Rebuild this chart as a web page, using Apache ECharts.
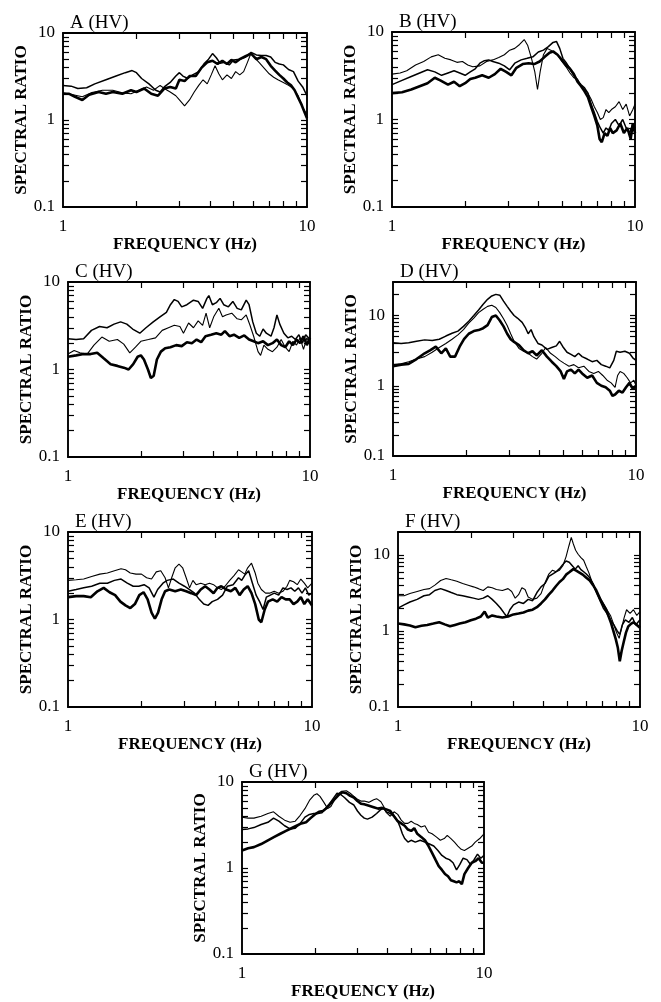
<!DOCTYPE html>
<html><head><meta charset="utf-8">
<script src="https://cdn.jsdelivr.net/npm/echarts@6/dist/echarts.min.js"></script>
<style>html,body{margin:0;padding:0;background:#fff}#c{width:661px;height:1002px}</style>
</head><body><div id="c"></div><script>
// ---- tick / label values ----
const xMinorTicks = [2,3,4,5,6,7,8,9];
const xTickLabels = [1, 10];
const yTickLabels = [0.1, 1, 10];
const yTicks10 = [0.2,0.3,0.4,0.5,0.6,0.7,0.8,0.9,1,2,3,4,5,6,7,8,9];
const yTicks30 = [0.2,0.3,0.4,0.5,0.6,0.7,0.8,0.9,1,2,3,4,5,6,7,8,9,10,20];
const yTicks20 = [0.2,0.3,0.4,0.5,0.6,0.7,0.8,0.9,1,2,3,4,5,6,7,8,9,10];
const panelTitles = ['A (HV)','B (HV)','C (HV)','D (HV)','E (HV)','F (HV)','G (HV)'];
const panelYMax = [10,10,10,30,10,20,10];

// ---- series values: [frequency Hz, spectral ratio] ----
const A_thick = [[1,2.0],[1.06,2.0],[1.12,1.85],[1.2,1.7],[1.28,1.95],[1.4,2.1],[1.5,2.0],[1.6,2.1],[1.75,2.0],[1.9,2.2],[2.0,2.1],[2.15,2.3],[2.3,2.0],[2.45,1.9],[2.6,2.3],[2.75,2.4],[2.9,2.3],[3.0,2.9],[3.15,2.8],[3.3,3.2],[3.5,3.2],[3.7,4.0],[3.9,4.6],[4.1,4.8],[4.3,4.4],[4.5,4.8],[4.7,4.4],[4.9,4.9],[5.1,4.6],[5.3,5.0],[5.6,5.4],[5.9,5.8],[6.2,5.0],[6.5,5.3],[6.8,5.0],[7.1,4.2],[7.4,3.7],[7.7,3.3],[8.0,3.0],[8.3,2.7],[8.6,2.5],[8.9,2.2],[9.2,1.8],[9.5,1.5],[9.8,1.2],[10,1.05]];
const A_med = [[1,2.5],[1.08,2.45],[1.15,2.3],[1.25,2.35],[1.35,2.6],[1.5,2.9],[1.65,3.2],[1.8,3.5],[1.92,3.7],[2.0,3.5],[2.1,3.0],[2.25,2.6],[2.4,2.2],[2.5,2.1],[2.6,2.4],[2.75,2.7],[2.9,3.2],[3.0,3.5],[3.1,3.2],[3.25,3.0],[3.4,3.3],[3.6,3.6],[3.8,4.5],[3.95,5.0],[4.1,5.8],[4.25,5.2],[4.4,4.5],[4.6,4.6],[4.8,4.3],[5.0,4.9],[5.3,5.0],[5.6,5.3],[5.9,6.0],[6.2,5.6],[6.5,5.5],[6.8,5.5],[7.1,5.3],[7.4,4.6],[7.7,4.4],[8.0,4.3],[8.4,3.8],[8.8,3.6],[9.2,2.8],[9.6,2.4],[10,1.9]];
const A_thin = [[1,2.05],[1.1,1.95],[1.2,1.85],[1.3,2.05],[1.45,2.2],[1.6,2.2],[1.75,2.05],[1.9,2.0],[2.05,2.2],[2.2,2.4],[2.35,2.2],[2.5,2.5],[2.6,2.3],[2.75,2.1],[2.9,1.9],[3.0,1.7],[3.15,1.45],[3.3,1.7],[3.45,2.1],[3.6,2.5],[3.75,2.9],[3.9,2.6],[4.05,3.3],[4.2,4.2],[4.35,3.4],[4.5,2.9],[4.7,3.3],[4.9,3.0],[5.1,3.6],[5.3,3.3],[5.5,3.6],[5.7,4.6],[5.9,5.9],[6.1,5.2],[6.4,4.5],[6.7,3.9],[7.0,3.4],[7.3,3.1],[7.6,2.9],[8.0,2.7],[8.4,2.5],[8.8,2.3],[9.2,1.9],[9.6,1.4],[10,1.15]];

const B_thick = [[1,2.0],[1.1,2.05],[1.2,2.2],[1.3,2.4],[1.4,2.6],[1.5,3.0],[1.58,2.8],[1.7,2.5],[1.8,2.7],[1.9,2.4],[2.0,2.6],[2.1,2.9],[2.2,3.0],[2.35,3.2],[2.5,3.0],[2.65,3.3],[2.8,3.8],[2.95,3.5],[3.1,3.2],[3.25,3.9],[3.45,4.3],[3.65,4.4],[3.85,4.3],[4.05,4.6],[4.25,5.2],[4.45,5.8],[4.6,6.0],[4.8,5.5],[5.0,4.8],[5.2,4.2],[5.4,3.8],[5.6,3.3],[5.8,2.7],[6.0,2.4],[6.2,2.1],[6.4,1.8],[6.6,1.4],[6.8,1.1],[7.0,0.85],[7.15,0.6],[7.3,0.55],[7.5,0.7],[7.7,0.65],[7.9,0.8],[8.1,0.7],[8.4,0.75],[8.7,0.9],[9.0,0.7],[9.3,0.8],[9.6,0.6],[9.8,0.9],[10,0.7]];
const B_med = [[1,2.5],[1.1,2.8],[1.2,3.1],[1.3,3.4],[1.4,3.7],[1.5,3.5],[1.6,3.2],[1.7,3.4],[1.8,3.6],[1.9,3.4],[2.0,3.2],[2.1,3.5],[2.2,3.8],[2.3,4.4],[2.4,4.7],[2.5,4.8],[2.6,4.6],[2.75,4.4],[2.9,4.1],[3.05,3.7],[3.2,4.4],[3.4,4.8],[3.6,5.0],[3.8,5.2],[4.0,5.9],[4.2,6.2],[4.4,6.8],[4.6,7.6],[4.75,7.8],[4.9,6.5],[5.05,5.0],[5.2,4.5],[5.4,3.8],[5.6,3.2],[5.8,2.8],[6.0,2.5],[6.2,2.3],[6.4,2.0],[6.6,1.5],[6.8,1.2],[7.0,0.95],[7.2,0.8],[7.4,0.7],[7.6,0.8],[7.8,0.75],[8.0,0.9],[8.3,1.0],[8.6,0.85],[8.9,1.0],[9.2,0.8],[9.5,0.7],[9.8,0.9],[10,0.8]];
const B_thin = [[1,3.3],[1.08,3.4],[1.15,3.6],[1.25,4.2],[1.35,4.6],[1.45,5.2],[1.55,5.5],[1.65,5.0],[1.75,4.8],[1.85,4.5],[1.95,4.6],[2.05,4.2],[2.15,4.0],[2.3,4.1],[2.45,4.6],[2.6,4.8],[2.75,5.1],[2.9,5.5],[3.05,6.2],[3.2,6.5],[3.35,7.2],[3.5,8.2],[3.62,7.0],[3.75,5.0],[3.87,3.5],[3.97,2.2],[4.07,3.5],[4.2,5.5],[4.35,6.5],[4.5,6.2],[4.65,5.8],[4.8,5.5],[5.0,4.6],[5.2,4.0],[5.4,3.4],[5.6,3.0],[5.8,2.9],[6.0,2.4],[6.2,2.2],[6.4,2.0],[6.6,1.7],[6.8,1.4],[7.0,1.2],[7.2,1.0],[7.4,1.05],[7.6,1.3],[7.8,1.2],[8.0,1.3],[8.3,1.4],[8.6,1.6],[8.9,1.3],[9.2,1.5],[9.5,1.1],[9.8,1.3],[10,1.5]];

const C_thick = [[1,1.4],[1.08,1.45],[1.16,1.5],[1.24,1.5],[1.32,1.55],[1.4,1.35],[1.5,1.15],[1.6,1.1],[1.7,1.05],[1.78,1.0],[1.86,1.15],[1.94,1.4],[2.0,1.45],[2.06,1.3],[2.14,1.0],[2.2,0.8],[2.26,0.85],[2.33,1.3],[2.42,1.6],[2.52,1.75],[2.65,1.8],[2.8,1.9],[2.95,1.85],[3.1,2.05],[3.25,2.0],[3.4,2.2],[3.55,2.05],[3.7,2.4],[3.9,2.5],[4.1,2.6],[4.3,2.5],[4.45,2.75],[4.65,2.4],[4.85,2.5],[5.1,2.3],[5.35,2.45],[5.6,2.2],[5.85,2.1],[6.1,2.0],[6.4,2.1],[6.7,1.9],[7.0,2.0],[7.3,2.2],[7.6,1.9],[7.9,1.8],[8.2,2.1],[8.5,1.9],[8.8,2.2],[9.1,2.0],[9.4,2.4],[9.7,1.9],[10,2.3]];
const C_med = [[1,2.25],[1.08,2.2],[1.16,2.25],[1.25,2.8],[1.35,3.1],[1.45,3.0],[1.55,3.3],[1.65,3.5],[1.75,3.3],[1.85,2.9],[1.98,2.6],[2.1,3.0],[2.25,3.5],[2.4,4.0],[2.55,4.5],[2.65,5.5],[2.75,6.3],[2.85,6.0],[2.95,5.2],[3.1,5.5],[3.3,6.2],[3.45,6.0],[3.6,5.0],[3.75,6.5],[3.82,7.0],[3.95,5.5],[4.1,5.8],[4.25,6.5],[4.4,5.5],[4.6,5.2],[4.8,6.0],[5.0,5.0],[5.2,4.8],[5.45,6.2],[5.6,5.5],[5.8,3.5],[6.0,2.6],[6.2,2.4],[6.4,2.9],[6.6,2.6],[6.9,2.4],[7.1,3.0],[7.3,4.2],[7.5,3.3],[7.8,2.6],[8.1,2.3],[8.4,2.4],[8.7,2.2],[9.0,2.5],[9.3,2.0],[9.6,2.5],[10,2.2]];
const C_thin = [[1,1.5],[1.06,1.65],[1.12,1.55],[1.2,1.5],[1.28,1.9],[1.38,2.35],[1.48,2.1],[1.6,2.2],[1.7,1.95],[1.8,1.55],[1.9,1.8],[2.0,2.1],[2.15,2.2],[2.3,2.3],[2.45,2.8],[2.6,3.0],[2.75,3.2],[2.9,3.1],[3.0,2.6],[3.15,3.4],[3.3,3.0],[3.45,3.6],[3.6,3.2],[3.72,4.4],[3.85,3.0],[4.0,4.0],[4.2,5.0],[4.35,4.0],[4.5,4.2],[4.75,4.4],[5.0,3.8],[5.2,3.7],[5.45,4.2],[5.65,3.2],[5.85,2.4],[6.1,1.6],[6.25,1.45],[6.45,1.9],[6.7,1.7],[7.0,1.6],[7.3,1.8],[7.6,2.2],[7.9,1.8],[8.2,1.6],[8.5,2.1],[8.8,1.9],[9.1,2.3],[9.4,1.7],[9.7,2.3],[10,2.0]];

const D_thick = [[1,1.9],[1.08,2.0],[1.16,2.05],[1.25,2.4],[1.35,2.9],[1.42,3.2],[1.5,3.6],[1.58,2.9],[1.65,3.4],[1.72,2.6],[1.8,2.6],[1.88,3.6],[1.96,4.6],[2.05,5.5],[2.15,6.0],[2.25,6.2],[2.35,6.6],[2.45,7.3],[2.55,9.5],[2.65,10],[2.75,8.5],[2.85,7.0],[2.95,5.5],[3.05,4.6],[3.15,4.2],[3.3,3.8],[3.45,3.2],[3.6,2.9],[3.75,3.1],[3.9,2.7],[4.1,3.2],[4.3,2.6],[4.5,2.2],[4.7,1.9],[4.9,1.6],[5.05,1.25],[5.2,1.6],[5.4,1.7],[5.6,1.5],[5.8,1.7],[6.0,1.5],[6.3,1.3],[6.6,1.4],[6.9,1.1],[7.2,1.0],[7.5,0.95],[7.8,0.85],[8.0,0.72],[8.2,0.75],[8.5,0.85],[8.8,0.8],[9.1,0.95],[9.4,1.1],[9.7,0.9],[10,1.0]];
const D_med = [[1,4.1],[1.08,4.0],[1.16,4.1],[1.25,4.3],[1.35,4.5],[1.45,4.4],[1.55,4.6],[1.65,5.1],[1.75,5.6],[1.85,6.0],[1.95,7.0],[2.05,8.3],[2.15,10],[2.25,12],[2.35,14.5],[2.45,17],[2.55,19],[2.65,20],[2.75,19.5],[2.85,16],[2.95,13.5],[3.05,11.5],[3.15,10],[3.25,9.2],[3.4,8.0],[3.5,6.8],[3.6,5.5],[3.7,6.3],[3.8,5.0],[3.95,4.0],[4.1,3.8],[4.3,3.3],[4.5,3.5],[4.7,3.7],[4.85,4.3],[5.0,3.6],[5.2,3.0],[5.4,2.8],[5.6,2.6],[5.8,2.9],[6.0,2.6],[6.3,2.4],[6.6,2.2],[6.9,2.3],[7.2,2.0],[7.5,1.9],[7.8,1.8],[8.1,2.3],[8.3,3.1],[8.6,3.0],[9.0,3.1],[9.4,2.9],[9.7,2.5],[10,2.3]];
const D_thin = [[1,2.0],[1.08,2.05],[1.16,2.2],[1.25,2.4],[1.35,2.6],[1.45,3.0],[1.55,3.5],[1.65,4.0],[1.75,4.6],[1.85,5.3],[1.95,6.3],[2.05,7.8],[2.15,9.2],[2.25,11],[2.35,12.3],[2.45,13.5],[2.55,14],[2.65,13],[2.75,11],[2.85,9],[2.95,7.2],[3.05,5.5],[3.15,4.3],[3.3,3.4],[3.45,3.1],[3.6,2.9],[3.75,2.6],[3.9,2.4],[4.1,2.9],[4.25,3.5],[4.45,2.9],[4.65,2.6],[4.85,2.3],[5.05,2.1],[5.3,1.9],[5.55,2.0],[5.8,1.8],[6.1,1.9],[6.4,1.6],[6.7,1.5],[7.0,1.6],[7.3,1.4],[7.6,1.2],[7.9,1.1],[8.2,0.95],[8.4,1.4],[8.6,1.6],[8.9,1.5],[9.2,1.3],[9.5,1.1],[9.8,1.2],[10,1.0]];

const E_thick = [[1,1.8],[1.08,1.85],[1.16,1.85],[1.24,1.8],[1.32,2.1],[1.4,2.3],[1.48,2.05],[1.56,1.9],[1.64,1.6],[1.72,1.45],[1.8,1.35],[1.88,1.5],[1.96,1.9],[2.04,2.05],[2.12,1.7],[2.2,1.2],[2.27,1.02],[2.34,1.2],[2.42,1.7],[2.5,2.1],[2.6,2.2],[2.75,2.1],[2.9,2.2],[3.05,2.1],[3.2,2.0],[3.35,1.9],[3.5,2.2],[3.65,2.4],[3.8,2.2],[3.95,2.0],[4.1,2.3],[4.25,2.4],[4.45,2.2],[4.65,2.1],[4.85,2.3],[5.05,1.9],[5.25,2.2],[5.45,2.4],[5.65,2.0],[5.85,1.5],[6.05,1.0],[6.2,0.93],[6.4,1.3],[6.6,1.6],[6.9,1.7],[7.2,1.6],[7.5,1.8],[7.8,1.7],[8.1,1.7],[8.4,1.5],[8.7,1.6],[9.0,1.8],[9.3,1.5],[9.6,1.7],[10,1.45]];
const E_med = [[1,2.1],[1.08,2.2],[1.16,2.3],[1.25,2.4],[1.35,2.6],[1.45,2.6],[1.55,2.8],[1.65,2.9],[1.75,2.6],[1.85,2.4],[1.95,2.4],[2.05,2.5],[2.15,2.3],[2.25,1.8],[2.33,2.2],[2.45,2.6],[2.55,2.8],[2.7,2.9],[2.85,2.6],[3.0,2.4],[3.15,2.2],[3.3,2.0],[3.45,1.7],[3.6,1.5],[3.75,1.45],[3.9,1.6],[4.1,1.7],[4.3,1.9],[4.5,2.4],[4.75,2.5],[5.0,3.0],[5.15,2.8],[5.3,3.2],[5.5,3.6],[5.7,2.6],[5.9,1.9],[6.1,1.6],[6.3,1.3],[6.5,1.8],[6.75,1.9],[7.0,2.0],[7.3,1.9],[7.6,2.3],[7.9,2.2],[8.2,2.3],[8.5,2.1],[8.8,2.3],[9.1,2.0],[9.4,2.3],[9.7,1.9],[10,2.0]];
const E_thin = [[1,2.8],[1.08,2.85],[1.16,2.9],[1.25,3.1],[1.35,3.3],[1.45,3.4],[1.55,3.6],[1.65,3.8],[1.72,3.7],[1.8,3.4],[1.9,3.3],[2.0,3.3],[2.1,3.0],[2.2,2.9],[2.3,3.5],[2.4,3.6],[2.5,3.0],[2.58,2.3],[2.66,3.0],[2.75,3.9],[2.85,4.3],[2.95,3.9],[3.05,3.0],[3.15,2.3],[3.25,2.8],[3.35,2.5],[3.5,2.6],[3.65,2.5],[3.8,2.6],[3.95,2.5],[4.1,2.3],[4.25,2.2],[4.4,2.4],[4.6,2.8],[4.8,3.2],[5.0,3.7],[5.15,3.5],[5.3,3.3],[5.45,3.9],[5.65,4.4],[5.85,3.4],[6.0,2.6],[6.2,2.2],[6.45,2.0],[6.7,2.0],[7.0,2.1],[7.3,2.0],[7.6,2.1],[7.9,2.4],[8.1,2.8],[8.4,2.7],[8.7,2.5],[9.0,2.9],[9.3,2.6],[9.6,2.3],[10,2.6]];

const F_thick = [[1,1.25],[1.06,1.22],[1.12,1.18],[1.18,1.12],[1.25,1.17],[1.32,1.2],[1.4,1.25],[1.48,1.3],[1.56,1.22],[1.64,1.15],[1.72,1.2],[1.8,1.25],[1.9,1.3],[2.0,1.38],[2.1,1.45],[2.2,1.55],[2.28,1.8],[2.35,1.5],[2.45,1.6],[2.55,1.55],[2.7,1.5],[2.85,1.55],[3.0,1.65],[3.15,1.7],[3.3,1.75],[3.45,1.85],[3.6,1.9],[3.75,2.05],[3.9,2.3],[4.05,2.6],[4.2,3.0],[4.35,3.4],[4.5,3.9],[4.65,4.4],[4.8,4.8],[4.95,5.5],[5.1,5.9],[5.3,6.5],[5.45,6.2],[5.6,5.9],[5.8,5.5],[6.0,5.0],[6.2,4.6],[6.4,4.0],[6.6,3.4],[6.9,2.5],[7.25,1.9],[7.6,1.26],[7.95,0.77],[8.1,0.6],[8.25,0.4],[8.4,0.55],[8.55,0.7],[8.75,0.95],[8.95,1.15],[9.2,1.25],[9.4,1.3],[9.7,1.2],[10,1.1]];
const F_med = [[1,2.0],[1.06,2.2],[1.12,2.4],[1.2,2.6],[1.28,2.9],[1.35,3.0],[1.42,3.4],[1.5,3.6],[1.58,3.4],[1.66,3.2],[1.75,3.0],[1.85,2.9],[1.95,2.8],[2.05,2.7],[2.15,2.6],[2.25,2.7],[2.35,2.9],[2.45,2.6],[2.55,2.3],[2.65,2.0],[2.75,1.7],[2.82,1.55],[2.9,1.9],[3.0,2.2],[3.15,2.4],[3.3,2.3],[3.45,2.6],[3.6,2.5],[3.75,3.2],[3.9,3.8],[4.05,4.2],[4.2,5.2],[4.35,5.6],[4.5,6.0],[4.65,6.6],[4.8,7.5],[4.95,8.3],[5.1,8.0],[5.25,7.2],[5.4,6.5],[5.55,7.2],[5.7,6.4],[5.85,6.0],[6.0,5.6],[6.2,5.0],[6.4,4.2],[6.6,3.2],[6.8,2.6],[7.05,2.0],[7.3,1.7],[7.55,1.4],[7.8,1.2],[8.05,1.0],[8.25,0.9],[8.45,1.2],[8.7,1.4],[9.0,1.3],[9.3,1.5],[9.6,1.2],[10,1.4]];
const F_thin = [[1,2.9],[1.06,2.9],[1.12,3.1],[1.2,3.3],[1.28,3.5],[1.35,3.6],[1.42,4.0],[1.5,4.6],[1.58,4.9],[1.66,4.7],[1.75,4.5],[1.85,4.2],[1.95,4.0],[2.05,3.8],[2.15,3.6],[2.25,3.4],[2.35,3.8],[2.45,3.7],[2.55,3.5],[2.7,3.4],[2.85,3.6],[2.95,3.3],[3.05,2.7],[3.15,3.0],[3.25,3.7],[3.35,3.5],[3.45,2.8],[3.6,2.6],[3.75,2.7],[3.9,3.1],[4.05,4.3],[4.2,5.6],[4.35,6.3],[4.5,6.0],[4.65,6.3],[4.8,7.2],[4.95,9.5],[5.08,13],[5.2,17],[5.3,14],[5.42,11.5],[5.55,10.2],[5.7,9.2],[5.85,8.5],[6.0,7.0],[6.15,5.8],[6.35,4.3],[6.55,3.4],[6.8,2.8],[7.05,2.3],[7.3,1.9],[7.55,1.6],[7.8,1.2],[8.0,0.95],[8.2,0.8],[8.4,1.1],[8.6,1.5],[8.8,1.9],[9.1,1.7],[9.4,1.9],[9.7,1.6],[10,1.8]];

const G_thick = [[1,1.6],[1.06,1.7],[1.12,1.75],[1.2,1.9],[1.28,2.1],[1.36,2.3],[1.44,2.5],[1.52,2.7],[1.6,2.9],[1.68,3.1],[1.76,3.3],[1.84,3.4],[1.92,3.8],[2.0,4.2],[2.08,4.5],[2.16,4.6],[2.24,5.0],[2.32,5.6],[2.4,6.2],[2.5,7.0],[2.6,7.6],[2.7,7.4],[2.8,6.9],[2.9,6.6],[3.0,6.0],[3.1,5.6],[3.2,5.5],[3.35,5.3],[3.5,5.1],[3.65,4.9],[3.8,5.0],[3.95,4.8],[4.1,4.6],[4.25,4.0],[4.4,3.5],[4.55,3.3],[4.7,3.1],[4.85,2.8],[5.0,2.7],[5.15,2.9],[5.3,2.5],[5.5,2.3],[5.7,2.1],[5.9,1.8],[6.1,1.5],[6.3,1.25],[6.5,1.05],[6.7,0.95],[6.9,0.85],[7.1,0.8],[7.3,0.72],[7.5,0.7],[7.7,0.68],[7.9,0.7],[8.1,0.65],[8.3,0.85],[8.6,1.0],[8.9,1.15],[9.2,1.2],[9.5,1.3],[9.8,1.15],[10,1.15]];
const G_med = [[1,2.8],[1.06,2.85],[1.12,2.95],[1.2,3.2],[1.28,3.4],[1.35,3.8],[1.42,3.5],[1.5,3.1],[1.58,2.85],[1.66,2.9],[1.74,3.3],[1.82,3.9],[1.9,4.2],[1.98,4.3],[2.06,4.3],[2.14,4.4],[2.22,5.0],[2.3,5.6],[2.38,6.4],[2.47,7.4],[2.55,7.2],[2.65,6.6],[2.78,5.8],[2.9,5.4],[3.0,4.6],[3.1,4.1],[3.2,3.8],[3.3,3.7],[3.45,3.9],[3.6,4.3],[3.75,4.8],[3.85,4.9],[3.95,4.5],[4.1,4.3],[4.25,4.0],[4.4,3.5],[4.5,3.0],[4.6,2.5],[4.7,2.2],[4.85,2.0],[5.0,2.1],[5.2,2.0],[5.45,2.1],[5.7,2.0],[5.95,1.9],[6.2,1.8],[6.45,1.6],[6.7,1.4],[6.95,1.3],[7.2,1.25],[7.45,1.15],[7.7,0.95],[7.95,1.1],[8.2,1.3],[8.5,1.25],[8.8,1.1],[9.1,1.25],[9.4,1.45],[9.7,1.3],[10,1.4]];
const G_thin = [[1,3.9],[1.06,3.8],[1.12,3.8],[1.2,4.0],[1.28,4.3],[1.35,4.5],[1.42,4.0],[1.5,3.6],[1.58,3.4],[1.66,3.5],[1.74,4.1],[1.82,4.9],[1.9,6.1],[1.98,7.0],[2.04,7.3],[2.1,6.8],[2.18,5.8],[2.26,4.9],[2.33,5.2],[2.42,6.3],[2.5,7.3],[2.58,7.8],[2.7,7.9],[2.8,7.4],[2.9,6.8],[3.0,6.3],[3.1,6.0],[3.2,6.0],[3.35,5.8],[3.5,6.2],[3.6,6.4],[3.75,5.9],[3.85,5.2],[3.95,4.4],[4.1,4.0],[4.25,4.5],[4.4,4.2],[4.55,3.6],[4.7,3.3],[4.85,3.3],[5.0,3.5],[5.15,3.3],[5.3,3.2],[5.5,3.0],[5.7,3.1],[5.9,2.6],[6.1,2.5],[6.35,2.3],[6.6,2.1],[6.85,2.2],[7.05,2.4],[7.3,2.2],[7.55,2.0],[7.8,1.8],[8.05,1.65],[8.3,1.6],[8.6,1.7],[8.9,1.8],[9.2,2.0],[9.6,2.2],[10,2.5]];

const panelSeries = [
  [A_thick, A_med, A_thin],
  [B_thick, B_med, B_thin],
  [C_thick, C_med, C_thin],
  [D_thick, D_med, D_thin],
  [E_thick, E_med, E_thin],
  [F_thick, F_med, F_thin],
  [G_thick, G_med, G_thin]
];

// ---- layout (plot boxes in px: left, top, width, height) ----
const boxes = [
  [63,33,244,174],[392,32,243,175],
  [68,282,242,175],[393,282,243,174],
  [68,532,244,175],[398,532,242,175],
  [242,782,242,172]
];
const lineWidths = [2.6, 1.5, 1.1];
const FONT = "'Liberation Serif','Times New Roman',serif";
const INK = '#000';

const grid = [], xAxis = [], yAxis = [], series = [], title = [];
boxes.forEach((b, i) => {
  const [l, t, w, h] = b;
  const ymax = panelYMax[i];
  const yTicks = ymax === 30 ? yTicks30 : (ymax === 20 ? yTicks20 : yTicks10);
  grid.push({left: l, top: t, width: w, height: h, containLabel: false});
  title.push({text: panelTitles[i], left: l + 2, top: t - 24,
    textStyle: {fontFamily: FONT, fontSize: 19, fontWeight: 'normal', color: INK}});
  const axLine = {show: true, onZero: false, lineStyle: {color: INK, width: 1.9}};
  const tick = (vals) => ({show: true, inside: true, length: 6, customValues: vals,
    lineStyle: {color: INK, width: 1.2}});
  xAxis.push({
    gridIndex: i, type: 'log', logBase: 10, min: 1, max: 10, position: 'bottom',
    axisLine: axLine, axisTick: tick(xMinorTicks), splitLine: {show: false},
    axisLabel: {customValues: xTickLabels, margin: 11, fontFamily: FONT, fontSize: 17, color: INK,
      formatter: v => String(+(+v).toPrecision(3))},
    name: 'FREQUENCY (Hz)', nameLocation: 'middle', nameGap: 29,
    nameTextStyle: {fontFamily: FONT, fontSize: 17, fontWeight: 'bold', color: INK}
  });
  xAxis.push({
    gridIndex: i, type: 'log', logBase: 10, min: 1, max: 10, position: 'top',
    axisLine: axLine, axisTick: tick(xMinorTicks), splitLine: {show: false},
    axisLabel: {show: false}
  });
  yAxis.push({
    gridIndex: i, type: 'log', logBase: 10, min: 0.1, max: ymax, position: 'left',
    axisLine: axLine, axisTick: tick(yTicks), splitLine: {show: false},
    axisLabel: {customValues: yTickLabels, margin: 8, fontFamily: FONT, fontSize: 17, color: INK,
      formatter: v => String(+(+v).toPrecision(3))},
    name: 'SPECTRAL RATIO', nameLocation: 'middle', nameGap: 31,
    nameTextStyle: {fontFamily: FONT, fontSize: 17, fontWeight: 'bold', color: INK}
  });
  yAxis.push({
    gridIndex: i, type: 'log', logBase: 10, min: 0.1, max: ymax, position: 'right',
    axisLine: axLine, axisTick: tick(yTicks), splitLine: {show: false},
    axisLabel: {show: false}
  });
  panelSeries[i].forEach((data, k) => {
    series.push({
      type: 'line', xAxisIndex: 2 * i, yAxisIndex: 2 * i, data: data,
      showSymbol: false, symbol: 'none', smooth: false, clip: true,
      lineStyle: {color: INK, width: lineWidths[k]}, z: 3 - k
    });
  });
});

const chart = echarts.init(document.getElementById('c'), null, {renderer: 'canvas'});
chart.setOption({animation: false, backgroundColor: '#fff', title, grid, xAxis, yAxis, series});
</script></body></html>
